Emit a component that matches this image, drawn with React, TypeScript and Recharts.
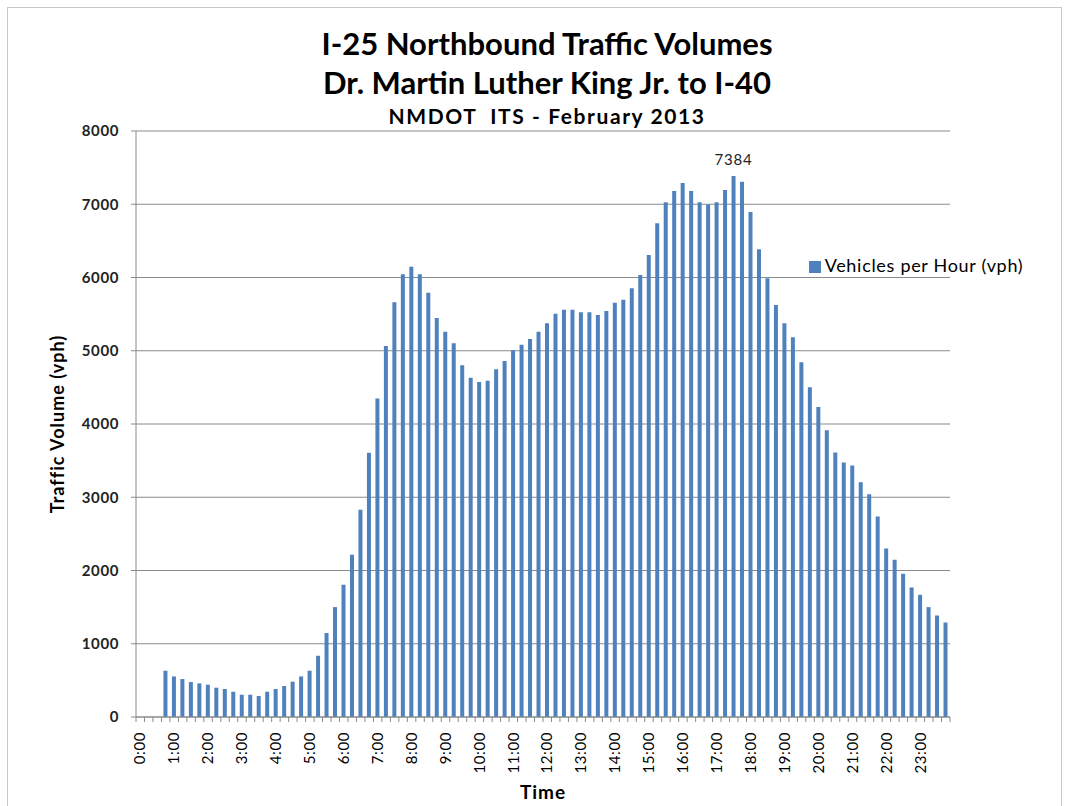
import React from 'react';
import { BarChart, Bar, XAxis, YAxis, CartesianGrid, Legend, LabelList } from 'recharts';

// 15-minute intervals, 0:00 .. 23:45
const timeSlots = [
  '0:00', '0:15', '0:30', '0:45', '1:00', '1:15', '1:30', '1:45', '2:00', '2:15', '2:30', '2:45',
  '3:00', '3:15', '3:30', '3:45', '4:00', '4:15', '4:30', '4:45', '5:00', '5:15', '5:30', '5:45',
  '6:00', '6:15', '6:30', '6:45', '7:00', '7:15', '7:30', '7:45', '8:00', '8:15', '8:30', '8:45',
  '9:00', '9:15', '9:30', '9:45', '10:00', '10:15', '10:30', '10:45', '11:00', '11:15', '11:30', '11:45',
  '12:00', '12:15', '12:30', '12:45', '13:00', '13:15', '13:30', '13:45', '14:00', '14:15', '14:30', '14:45',
  '15:00', '15:15', '15:30', '15:45', '16:00', '16:15', '16:30', '16:45', '17:00', '17:15', '17:30', '17:45',
  '18:00', '18:15', '18:30', '18:45', '19:00', '19:15', '19:30', '19:45', '20:00', '20:15', '20:30', '20:45',
  '21:00', '21:15', '21:30', '21:45', '22:00', '22:15', '22:30', '22:45', '23:00', '23:15', '23:30', '23:45',
];

// vehicles per hour
const nightVph = [
  null, null, null, 632, 554, 518, 477, 459, 441, 400, 382, 345,
  304, 304, 286, 345, 382, 423, 482, 554, 632, 836, 1146, 1500,
];
const morningVph = [
  1805, 2214, 2828, 3606, 4347, 5065, 5661, 6044, 6148, 6044, 5793, 5447,
  5261, 5102, 4802, 4633, 4574, 4592, 4748, 4861, 5007, 5083, 5161, 5261,
];
const afternoonVph = [
  5375, 5506, 5561, 5561, 5525, 5525, 5488, 5543, 5656, 5697, 5853, 6034,
  6307, 6739, 7026, 7180, 7289, 7180, 7026, 6998, 7026, 7194, 7384, 7307,
];
const eveningVph = [
  6893, 6384, 5989, 5625, 5375, 5184, 4843, 4502, 4233, 3915, 3610, 3473,
  3432, 3206, 3042, 2737, 2300, 2146, 1955, 1768, 1668, 1500, 1386, 1290,
];

const yTicks = [0, 1000, 2000, 3000, 4000, 5000, 6000, 7000, 8000];

const vph = [...nightVph, ...morningVph, ...afternoonVph, ...eveningVph];
const data = timeSlots.map((t, i) => ({ time: t, vph: vph[i] }));
const peak = Math.max(...(vph.filter((v) => v !== null) as number[]));

const FONT = 'Lato, "Open Sans", sans-serif';
const BAR = '#4F81BD';
const GRID = '#8a8a8a';

const CHART_W = 1068;
const CHART_H = 806;
const PLOT_LEFT = 136;
const PLOT_RIGHT = 950;
const BAND = (PLOT_RIGHT - PLOT_LEFT) / timeSlots.length;

const TimeTick = (props: any) => {
  const { x, y, payload, index } = props;
  const left = x - BAND / 2;
  const showLabel = index % 4 === 0;
  return (
    <g>
      <line x1={left} y1={y} x2={left} y2={y + 5} stroke={GRID} />
      {index === timeSlots.length - 1 && (
        <line x1={left + BAND} y1={y} x2={left + BAND} y2={y + 5} stroke={GRID} />
      )}
      {showLabel && (
        <text
          x={x}
          y={y + 15}
          dy="0.35em"
          textAnchor="end"
          transform={`rotate(-90, ${x}, ${y + 15})`}
          fontSize={15}
          letterSpacing={0.6}
          fontFamily={FONT}
          fill="#000"
        >
          {payload.value}
        </text>
      )}
    </g>
  );
};

const App: React.FC = () => {
  return (
    <div style={{ position: 'absolute', left: 0, top: 0, width: CHART_W, height: CHART_H, background: '#fff', overflow: 'hidden' }}>
      <div
        style={{
          position: 'absolute',
          left: 7,
          top: 7,
          width: 1053,
          height: 820,
          border: '1px solid #c8c8c8',
        }}
      />
      <div style={{ position: 'absolute', left: 0, width: 1094, top: 24, textAlign: 'center', fontFamily: FONT, fontWeight: 700, color: '#000' }}>
        <div style={{ fontSize: 31, lineHeight: '39px' }}>I-25 Northbound Traffic Volumes</div>
        <div style={{ fontSize: 31, lineHeight: '39px' }}>Dr. Martin Luther King Jr. to I-40</div>
        <div style={{ fontSize: 21, lineHeight: '28px', letterSpacing: 1.6, whiteSpace: 'pre' }}>NMDOT  ITS - February 2013</div>
      </div>
      <div
        style={{
          position: 'absolute',
          left: 57,
          top: 424,
          transform: 'translate(-50%, -50%) rotate(-90deg)',
          fontFamily: FONT,
          fontWeight: 700,
          fontSize: 18,
          letterSpacing: 1,
          whiteSpace: 'nowrap',
        }}
      >
        Traffic Volume (vph)
      </div>
      <div
        style={{
          position: 'absolute',
          left: 543,
          top: 791,
          transform: 'translate(-50%, -50%)',
          fontFamily: FONT,
          fontWeight: 700,
          fontSize: 19,
          letterSpacing: 1,
        }}
      >
        Time
      </div>
      <div style={{ position: 'absolute', left: 0, top: 0 }}>
        <BarChart
          width={CHART_W}
          height={CHART_H}
          data={data}
          margin={{ top: 131, right: CHART_W - PLOT_RIGHT, left: PLOT_LEFT - 60, bottom: 29 }}
          barSize={4}
        >
          <CartesianGrid vertical={false} stroke={GRID} strokeWidth={1} />
          <XAxis
            dataKey="time"
            interval={0}
            height={60}
            tickLine={false}
            tickSize={0}
            tickMargin={0}
            axisLine={{ stroke: GRID }}
            tick={<TimeTick />}
          />
          <YAxis
            width={60}
            domain={[0, 8000]}
            ticks={yTicks}
            interval={0}
            tickSize={5}
            tickMargin={12}
            tickLine={{ stroke: GRID }}
            axisLine={{ stroke: GRID }}
            tick={{ fontSize: 15, fontFamily: FONT, fontWeight: 700, fill: '#222', letterSpacing: 0.6 }}
          />
          <Legend
            layout="horizontal"
            verticalAlign="middle"
            align="center"
            iconType="square"
            iconSize={12}
            wrapperStyle={{ left: 796, top: 254, width: 250, fontFamily: FONT, fontSize: 18, letterSpacing: 0.7 }}
            formatter={(value: string) => <span style={{ color: '#000' }}>{value}</span>}
          />
          <Bar dataKey="vph" name="Vehicles per Hour (vph)" fill={BAR} isAnimationActive={false}>
            <LabelList
              dataKey="vph"
              position="top"
              offset={11}
              fontSize={15}
              letterSpacing={0.8}
              fontFamily={FONT}
              fill="#222"
              formatter={(v: any) => (v === peak ? String(v) : '')}
            />
          </Bar>
        </BarChart>
      </div>
    </div>
  );
};

export default App;
